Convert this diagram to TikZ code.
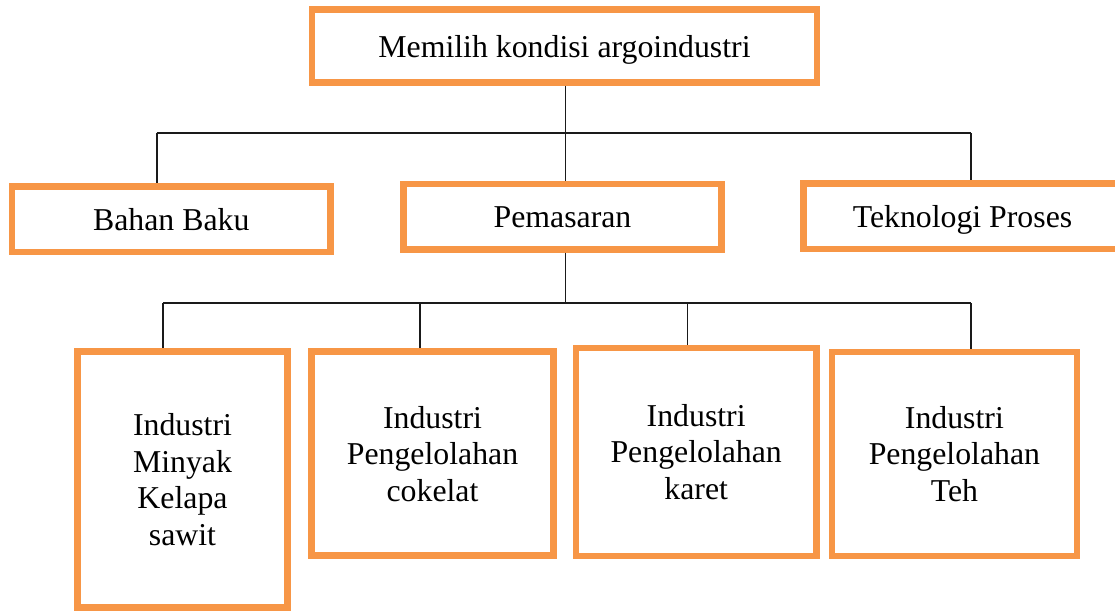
\documentclass[tikz,border=0pt]{standalone}
\usepackage{fontspec}
\setmainfont{Liberation Serif}
\definecolor{boxorange}{HTML}{F79646}
\definecolor{linkgray}{HTML}{1A1A1A}
\tikzset{
  orgbox/.style={draw=boxorange, line width=6.5pt, fill=white, inner sep=0pt,
    align=center, text depth=0pt,
    font=\fontsize{31.8}{36.6}\selectfont},
  link/.style={draw=linkgray, line width=1.7pt}
}
\begin{document}
\begin{tikzpicture}[x=1pt, y=-1pt]
\clip (0,0) rectangle (1115,610);
\fill[white] (0,0) rectangle (1115,610);

% top level
\node[orgbox, minimum width=505pt, minimum height=73pt] (top) at (564.5,46)
  {Memilih kondisi argoindustri};

% second level
\node[orgbox, minimum width=318.5pt, minimum height=65.5pt] (bahan) at (171.25,219.25)
  {Bahan Baku};
\node[orgbox, minimum width=318.4pt, minimum height=65.3pt] (pemasaran) at (562.5,216.7)
  {Pemasaran};
\node[orgbox, minimum width=318.4pt, minimum height=65.7pt] (teknologi) at (962.5,216.2)
  {Teknologi Proses};

% third level
\node[orgbox, minimum width=210.4pt, minimum height=255.8pt] (sawit) at (182.5,479.6)
  {Industri\\Minyak\\Kelapa\\sawit};
\node[orgbox, minimum width=241.6pt, minimum height=203.8pt] (cokelat) at (432.5,453.6)
  {Industri\\Pengelolahan\\cokelat};
\node[orgbox, minimum width=240.5pt, minimum height=208.3pt] (karet) at (696.2,451.9)
  {Industri\\Pengelolahan\\karet};
\node[orgbox, minimum width=245.3pt, minimum height=204.3pt] (teh) at (954.4,453.9)
  {Industri\\Pengelolahan\\Teh};

% junction points on the two horizontal buses
\coordinate (j1)  at (565.5,133.3);
\coordinate (b1L) at (156.7,133.3);
\coordinate (b1R) at (971,133.3);
\coordinate (j2)  at (565.5,303.3);
\coordinate (b2L) at (163.3,303.3);
\coordinate (b2a) at (420,303.3);
\coordinate (b2b) at (687.5,303.3);
\coordinate (b2R) at (971,303.3);

% connectors
\draw[link] (j1 |- top.south) -- (j1);
\draw[link] (b1L) -- (b1R);
\draw[link] (b1L) -- (b1L |- bahan.north);
\draw[link] (j1) -- (j1 |- pemasaran.north);
\draw[link] (b1R) -- (b1R |- teknologi.north);
\draw[link] (j2 |- pemasaran.south) -- (j2);
\draw[link] (b2L) -- (b2R);
\draw[link] (b2L) -- (b2L |- sawit.north);
\draw[link] (b2a) -- (b2a |- cokelat.north);
\draw[link] (b2b) -- (b2b |- karet.north);
\draw[link] (b2R) -- (b2R |- teh.north);
\end{tikzpicture}
\end{document}
